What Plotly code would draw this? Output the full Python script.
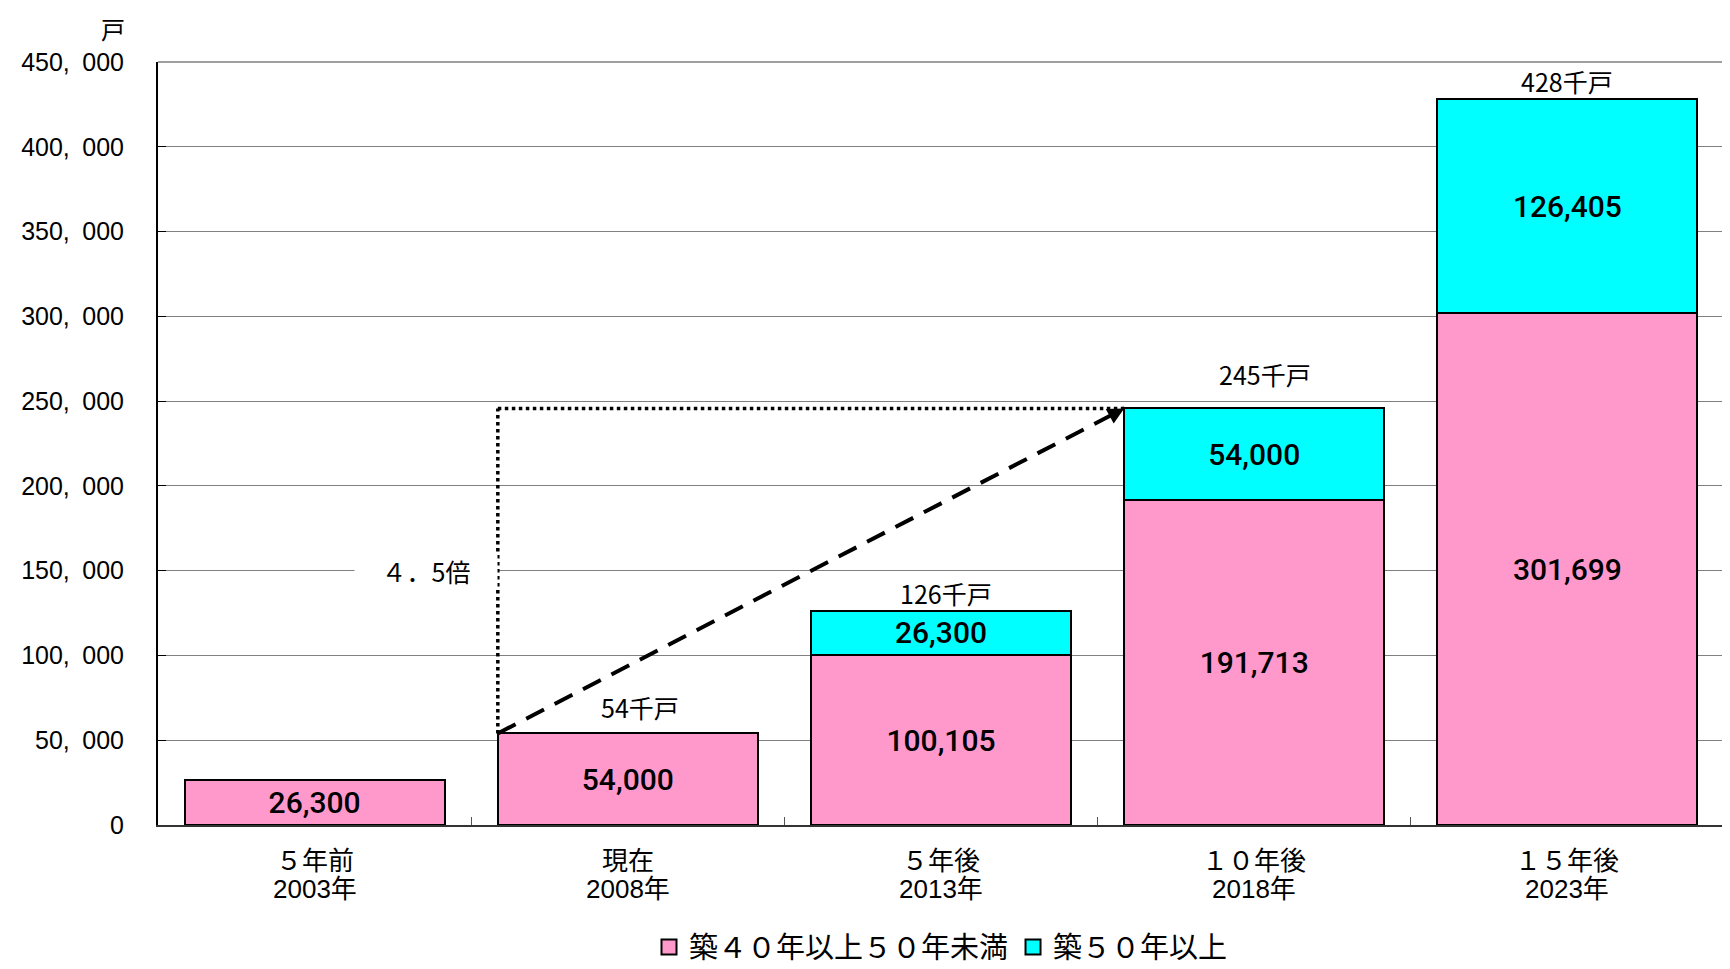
import plotly.graph_objects as go

# ---- data ----
period_labels = ["５年前", "現在", "５年後", "１０年後", "１５年後"]
year_labels = ["2003年", "2008年", "2013年", "2018年", "2023年"]
series_40_50 = [26300, 54000, 100105, 191713, 301699]   # 築４０年以上５０年未満
series_50_plus = [0, 0, 26300, 54000, 126405]           # 築５０年以上
total_labels = ["", "54千戸", "126千戸", "245千戸", "428千戸"]
y_tick_values = [0, 50000, 100000, 150000, 200000, 250000, 300000, 350000, 400000, 450000]
y_tick_labels = ["0", "50,\u2002000", "100,\u2002000", "150,\u2002000", "200,\u2002000",
                 "250,\u2002000", "300,\u2002000", "350,\u2002000", "400,\u2002000", "450,\u2002000"]
ratio_label = "４．5倍"
name_40_50 = "築４０年以上５０年未満"
name_50_plus = "築５０年以上"
unit_label = "戸"

# ---- layout constants ----
FONT = "Noto Sans CJK JP"
LATIN = "Liberation Sans, Noto Sans CJK JP"
NUMFONT = "Roboto"
PINK = "#FF99CC"
CYAN = "#00FFFF"
GRID = "#808080"
BARGAP = 0.17
label_offsets = [(0, 22), (12, 26), (5, 18), (11, 34), (0, 18)]  # (xshift, yshift) px

categories = [f"{p}<br>{y}" for p, y in zip(period_labels, year_labels)]
totals = [a + b for a, b in zip(series_40_50, series_50_plus)]

def fmt(v):
    return f"{v:,}" if v else ""

fig = go.Figure()
for vals, name, color in [(series_40_50, name_40_50, PINK), (series_50_plus, name_50_plus, CYAN)]:
    fig.add_trace(go.Bar(
        x=categories, y=vals, name=name, showlegend=False,
        marker=dict(color=color, line=dict(color="black", width=2)),
        text=[fmt(v) for v in vals], textposition="inside",
        insidetextanchor="middle", textangle=0,
        textfont=dict(family=NUMFONT, size=30, color="black", weight=500),
    ))
    # legend proxy with square swatch
    fig.add_trace(go.Scatter(
        x=[None], y=[None], mode="markers", name=name, showlegend=True,
        marker=dict(symbol="square", size=15, color=color, line=dict(color="black", width=2)),
    ))

# category labels (two lines) under the axis
for i, (p, y) in enumerate(zip(period_labels, year_labels)):
    fig.add_annotation(x=i, y=0, xref="x", yref="y", text=p, showarrow=False,
                       xanchor="center", yanchor="middle", yshift=-36,
                       font=dict(family=LATIN, size=26, color="black"))
    fig.add_annotation(x=i, y=0, xref="x", yref="y", text=y, showarrow=False,
                       xanchor="center", yanchor="middle", yshift=-64,
                       font=dict(family=LATIN, size=26, color="black"))

# totals above bars
for i, (lab, tot) in enumerate(zip(total_labels, totals)):
    if not lab:
        continue
    dx, dy = label_offsets[i]
    fig.add_annotation(x=i, y=tot, text=lab, showarrow=False, yanchor="middle",
                       xshift=dx, yshift=dy, bgcolor="white", borderpad=0, height=28,
                       font=dict(family=FONT, size=25, color="black"))

half = (1 - BARGAP) / 2
x_start = 1 - half
x_end = 3 - half
y_start = totals[1]
y_end = totals[3]

# dotted guide
fig.add_shape(type="line", xref="x", yref="y", x0=x_start, x1=x_start, y0=y_start, y1=y_end,
              line=dict(color="black", width=3.5, dash="dot"))
fig.add_shape(type="line", xref="x", yref="y", x0=x_start, x1=x_end, y0=y_end, y1=y_end,
              line=dict(color="black", width=3.5, dash="dot"))
# dashed arrow
fig.add_shape(type="line", xref="x", yref="y", x0=x_start, x1=x_end, y0=y_start, y1=y_end,
              line=dict(color="black", width=4, dash="20px,12px"))
fig.add_annotation(x=x_end, y=y_end, xref="x", yref="y", ax=-11, ay=6,
                   showarrow=True, arrowhead=2, arrowsize=1.1, arrowwidth=3,
                   arrowcolor="black", text="")

# ratio label
fig.add_annotation(x=0.356, y=150000, text=ratio_label, showarrow=False,
                   bgcolor="white", width=140, height=32,
                   font=dict(family=FONT, size=25, color="black"))

# unit label
fig.add_annotation(xref="paper", yref="paper", x=-0.029, y=1.044, text=unit_label,
                   xanchor="center", yanchor="middle", showarrow=False,
                   font=dict(family=FONT, size=24, color="black"))

# plot frame (top and right)
fig.add_shape(type="line", xref="paper", yref="paper", x0=1, x1=1, y0=0, y1=1,
              line=dict(color=GRID, width=1.5))
fig.add_shape(type="line", xref="paper", yref="paper", x0=0, x1=1, y0=1, y1=1,
              line=dict(color=GRID, width=1.5))

# page body has an 8px default margin: size/margins compensate for it
fig.update_layout(
    width=1722, height=961,
    barmode="stack", bargap=BARGAP,
    plot_bgcolor="white", paper_bgcolor="white",
    margin=dict(l=150, r=6, t=54, b=144, autoexpand=False),
    font=dict(family=FONT, size=24, color="black"),
    legend=dict(orientation="h", x=0.5, xanchor="center", y=-0.16, yanchor="middle",
                font=dict(family=FONT, size=29, color="black"), traceorder="normal",
                itemclick=False, itemwidth=30, tracegroupgap=0),
    showlegend=True,
)
fig.update_xaxes(type="category", showgrid=False, showline=True, linecolor="#333333",
                 linewidth=2, ticks="inside", tickson="boundaries", ticklen=8,
                 tickcolor="#555555", automargin=False, showticklabels=False)
fig.update_yaxes(range=[0, 450000], tickvals=y_tick_values, ticktext=y_tick_labels,
                 showgrid=True, gridcolor=GRID, gridwidth=1, zeroline=False,
                 showline=True, linecolor="black", linewidth=2,
                 ticks="inside", ticklen=8, tickcolor="black", automargin=False,
                 ticklabelstandoff=27,
                 tickfont=dict(family=LATIN, size=25, color="black"))

fig.write_html("out.html")
